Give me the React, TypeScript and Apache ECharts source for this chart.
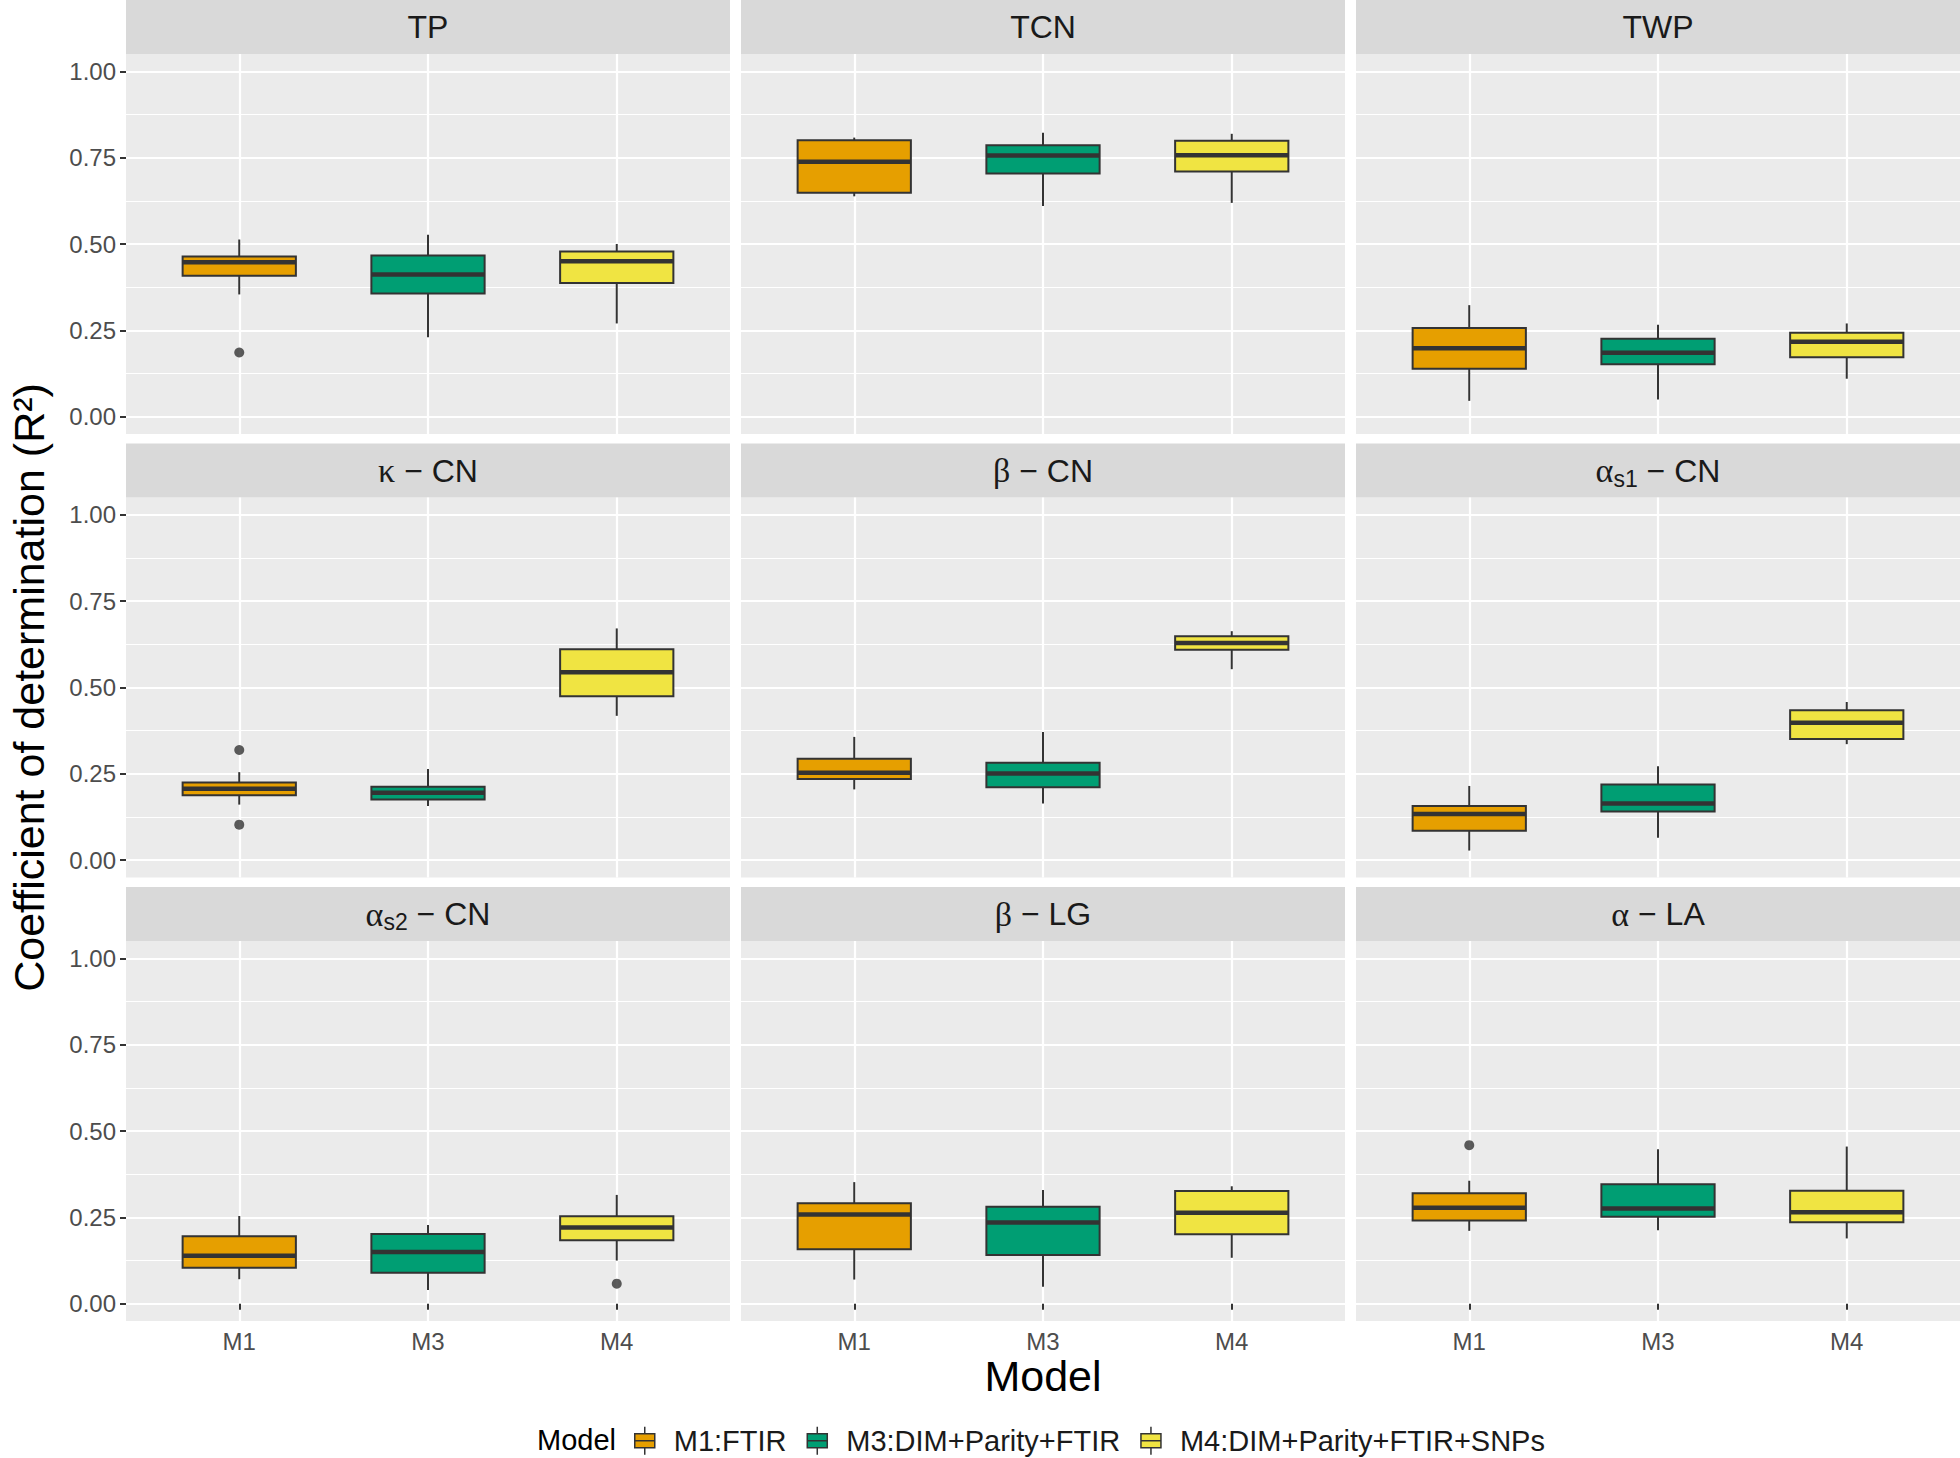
import React, { useEffect, useRef } from 'react';
import * as echarts from 'echarts';

// ---------- data ----------
const MODELS = ['M1', 'M3', 'M4'];
const LEGEND_NAMES = ['M1:FTIR', 'M3:DIM+Parity+FTIR', 'M4:DIM+Parity+FTIR+SNPs'];
const FILLS = ['#E69F00', '#009E73', '#F0E442'];
const Y_TICKS = [0, 0.25, 0.5, 0.75, 1];

// each row: [min whisker, Q1, median, Q3, max whisker] for M1, M3, M4
const TP = [[0.354, 0.408, 0.447, 0.464, 0.513], [0.230, 0.357, 0.412, 0.467, 0.527], [0.270, 0.387, 0.450, 0.478, 0.500]];
const TP_OUT = [[0.186], [], []];
const TCN = [[0.638, 0.648, 0.738, 0.800, 0.808], [0.610, 0.704, 0.756, 0.786, 0.822], [0.619, 0.710, 0.757, 0.799, 0.819]];
const TCN_OUT = [[], [], []];
const TWP = [[0.046, 0.139, 0.198, 0.257, 0.323], [0.050, 0.152, 0.185, 0.226, 0.266], [0.110, 0.172, 0.217, 0.243, 0.270]];
const TWP_OUT = [[], [], []];
const KAPPA_CN = [[0.161, 0.188, 0.207, 0.225, 0.255], [0.157, 0.176, 0.195, 0.213, 0.264], [0.418, 0.475, 0.544, 0.611, 0.671]];
const KAPPA_CN_OUT = [[0.319, 0.103], [], []];
const BETA_CN = [[0.205, 0.235, 0.253, 0.294, 0.357], [0.164, 0.211, 0.251, 0.282, 0.371], [0.553, 0.609, 0.629, 0.648, 0.663]];
const BETA_CN_OUT = [[], [], []];
const AS1_CN = [[0.028, 0.085, 0.134, 0.157, 0.215], [0.065, 0.141, 0.164, 0.219, 0.272], [0.336, 0.351, 0.398, 0.434, 0.458]];
const AS1_CN_OUT = [[], [], []];
const AS2_CN = [[0.071, 0.104, 0.139, 0.195, 0.254], [0.040, 0.090, 0.150, 0.202, 0.228], [0.125, 0.184, 0.221, 0.253, 0.315]];
const AS2_CN_OUT = [[], [], [0.058]];
const BETA_LG = [[0.070, 0.158, 0.258, 0.291, 0.352], [0.049, 0.141, 0.235, 0.281, 0.329], [0.133, 0.201, 0.263, 0.326, 0.340]];
const BETA_LG_OUT = [[], [], []];
const ALPHA_LA = [[0.211, 0.241, 0.278, 0.320, 0.356], [0.213, 0.252, 0.276, 0.346, 0.447], [0.189, 0.236, 0.265, 0.327, 0.455]];
const ALPHA_LA_OUT = [[0.459], [], []];

// facet strip labels (rich text)
const STRIPS = [
  '{t|TP}',
  '{t|TCN}',
  '{t|TWP}',
  '{g|κ}{t| − CN}',
  '{g|β}{t| − CN}',
  '{g|α}{sub|s1}{t| − CN}',
  '{g|α}{sub|s2}{t| − CN}',
  '{g|β}{t| − LG}',
  '{g|α}{t| − LA}',
];
const PANEL_STATS = [TP, TCN, TWP, KAPPA_CN, BETA_CN, AS1_CN, AS2_CN, BETA_LG, ALPHA_LA];
const PANEL_OUT = [TP_OUT, TCN_OUT, TWP_OUT, KAPPA_CN_OUT, BETA_CN_OUT, AS1_CN_OUT, AS2_CN_OUT, BETA_LG_OUT, ALPHA_LA_OUT];

// ---------- layout ----------
const COL_LEFT = [126, 741, 1356];
const PANEL_W = 604;
const STRIP_TOP = [0, 443.5, 887];
const STRIP_H = 54;
const PANEL_H = 380;
const Y_MIN = -0.05;
const Y_MAX = 1.05;
const FONT = 'Liberation Sans, Arial, Helvetica, sans-serif';
const SERIF = 'Liberation Serif, DejaVu Serif, serif';

const LEGEND_ICON = 'path://M12 0L12 7M2 7L22 7L22 21L2 21ZM2 14L22 14M12 21L12 28';

function buildOption() {
  const grid: any[] = [];
  const xAxis: any[] = [];
  const yAxis: any[] = [];
  const series: any[] = [];
  const graphic: any[] = [];

  const yInterval = Y_TICKS[1] - Y_TICKS[0];
  const pad = (PANEL_H * (Y_TICKS[0] - Y_MIN)) / (Y_MAX - Y_MIN);
  const padTop = (PANEL_H * (Y_MAX - Y_TICKS[Y_TICKS.length - 1])) / (Y_MAX - Y_MIN);
  const nCat = MODELS.length;
  const xRange = nCat - 1 + 1.2; // ggplot discrete expansion 0.6 each side
  const catLeft = (PANEL_W * 0.6) / xRange;
  const catW = (PANEL_W * (nCat - 1)) / xRange;

  for (let i = 0; i < 9; i++) {
    const r = Math.floor(i / 3);
    const c = i % 3;
    const px = COL_LEFT[c];
    const py = STRIP_TOP[r] + STRIP_H;
    const gBG = 3 * i;
    const gH = 3 * i + 1;
    const gV = 3 * i + 2;

    grid.push({ left: px, top: py, width: PANEL_W, height: PANEL_H, show: true, backgroundColor: '#EBEBEB', borderWidth: 0, z: 0 });
    grid.push({ left: px, top: py + padTop, width: PANEL_W, height: PANEL_H - pad - padTop });
    grid.push({ left: px + catLeft, top: py, width: catW, height: PANEL_H });

    xAxis.push({ gridIndex: gBG, type: 'value', show: false });
    yAxis.push({ gridIndex: gBG, type: 'value', show: false });

    xAxis.push({ gridIndex: gH, type: 'value', show: false, min: 0, max: 1 });
    yAxis.push({
      gridIndex: gH,
      type: 'value',
      min: Y_TICKS[0],
      max: Y_TICKS[Y_TICKS.length - 1],
      interval: yInterval,
      z: 1,
      axisLine: { show: false },
      axisTick: { show: c === 0, length: 6, lineStyle: { color: '#333333', width: 2 } },
      axisLabel: {
        show: c === 0,
        fontSize: 24,
        color: '#4D4D4D',
        margin: 10,
        fontFamily: FONT,
        formatter: (v: number) => v.toFixed(2),
      },
      splitLine: { show: true, lineStyle: { color: '#FFFFFF', width: 2.2 } },
      minorTick: { show: false, splitNumber: 2 },
      minorSplitLine: { show: true, lineStyle: { color: '#FFFFFF', width: 1.1 } },
      ...(i === 3
        ? {
            name: 'Coefficient of determination (R²)',
            nameLocation: 'middle',
            nameGap: 76,
            nameTextStyle: { fontSize: 43, color: '#000000', fontFamily: FONT },
          }
        : {}),
    });

    xAxis.push({
      gridIndex: gV,
      type: 'category',
      data: MODELS,
      boundaryGap: false,
      z: 1,
      axisLine: { show: false },
      axisTick: { show: r === 2, length: 6, lineStyle: { color: '#333333', width: 2 } },
      axisLabel: { show: r === 2, fontSize: 24, color: '#4D4D4D', margin: 8, interval: 0, fontFamily: FONT },
      splitLine: { show: true, interval: 0, lineStyle: { color: '#FFFFFF', width: 2.2 } },
      ...(i === 7
        ? {
            name: 'Model',
            nameLocation: 'middle',
            nameGap: 33,
            nameTextStyle: { fontSize: 43, color: '#000000', fontFamily: FONT },
          }
        : {}),
    });
    yAxis.push({ gridIndex: gV, type: 'value', min: Y_MIN, max: Y_MAX, show: false });

    const stats = PANEL_STATS[i];
    series.push({
      type: 'custom',
      xAxisIndex: gV,
      yAxisIndex: gV,
      z: 3,
      silent: true,
      encode: { x: 0, y: [1, 2, 3, 4, 5] },
      data: stats.map((s, k) => [k, ...s]),
      renderItem: (params: any, api: any) => {
        const k = api.value(0);
        const pMin = api.coord([k, api.value(1)]);
        const pQ1 = api.coord([k, api.value(2)]);
        const pMed = api.coord([k, api.value(3)]);
        const pQ3 = api.coord([k, api.value(4)]);
        const pMax = api.coord([k, api.value(5)]);
        const bw = api.size([1, 0])[0] * 0.6;
        const cx = pMed[0];
        const stroke = '#333333';
        return {
          type: 'group',
          children: [
            { type: 'line', shape: { x1: cx, y1: pMax[1], x2: cx, y2: pQ3[1] }, style: { stroke, lineWidth: 2 } },
            { type: 'line', shape: { x1: cx, y1: pQ1[1], x2: cx, y2: pMin[1] }, style: { stroke, lineWidth: 2 } },
            {
              type: 'rect',
              shape: { x: cx - bw / 2, y: pQ3[1], width: bw, height: pQ1[1] - pQ3[1] },
              style: { fill: FILLS[k], stroke, lineWidth: 2 },
            },
            { type: 'line', shape: { x1: cx - bw / 2, y1: pMed[1], x2: cx + bw / 2, y2: pMed[1] }, style: { stroke, lineWidth: 4.5 } },
          ],
        };
      },
    });

    const outPts: number[][] = [];
    PANEL_OUT[i].forEach((vals, k) => vals.forEach((v) => outPts.push([k, v])));
    if (outPts.length) {
      series.push({
        type: 'scatter',
        xAxisIndex: gV,
        yAxisIndex: gV,
        z: 4,
        silent: true,
        symbol: 'circle',
        symbolSize: 10,
        itemStyle: { color: '#333333' },
        data: outPts,
      });
    }

    graphic.push({
      type: 'rect',
      shape: { x: px, y: STRIP_TOP[r], width: PANEL_W, height: STRIP_H },
      style: { fill: '#D9D9D9' },
      silent: true,
    });
    graphic.push({
      type: 'text',
      x: px + PANEL_W / 2,
      y: STRIP_TOP[r] + STRIP_H / 2,
      silent: true,
      style: {
        text: STRIPS[i],
        align: 'center',
        verticalAlign: 'middle',
        fontSize: 32,
        fill: '#1A1A1A',
        fontFamily: FONT,
        rich: {
          t: { fontSize: 32, fontFamily: FONT, fill: '#1A1A1A' },
          g: { fontSize: 34, fontFamily: SERIF, fill: '#1A1A1A' },
          sub: { fontSize: 23, fontFamily: FONT, fill: '#1A1A1A', padding: [16, 0, 0, 0] },
        },
      },
    });
  }

  // legend carrier series (no marks)
  LEGEND_NAMES.forEach((name, k) => {
    series.push({
      type: 'custom',
      name,
      xAxisIndex: 2,
      yAxisIndex: 2,
      itemStyle: { color: FILLS[k], borderColor: '#333333', borderWidth: 1.5 },
      data: [],
      renderItem: () => null,
    });
  });

  graphic.push({
    type: 'text',
    x: 537,
    y: 1440,
    silent: true,
    style: { text: 'Model', fontSize: 29, lineHeight: 26, fill: '#000000', fontFamily: FONT, verticalAlign: 'middle', align: 'left' },
  });

  return {
    animation: false,
    backgroundColor: '#FFFFFF',
    textStyle: { fontFamily: FONT },
    grid,
    xAxis,
    yAxis,
    series,
    graphic,
    legend: {
      left: 634,
      top: 1426,
      padding: 0,
      orient: 'horizontal',
      itemWidth: 24,
      itemHeight: 28,
      itemGap: 20,
      selectedMode: false,
      icon: LEGEND_ICON,
      itemStyle: { borderColor: '#333333', borderWidth: 1.5 },
      formatter: (name: string) => '{gap|}' + name,
      textStyle: {
        fontSize: 29,
        lineHeight: 26,
        color: '#1A1A1A',
        fontFamily: FONT,
        rich: { gap: { width: 12, lineHeight: 26 } },
      },
      data: LEGEND_NAMES,
    },
  };
}

export default function App() {
  const ref = useRef<HTMLDivElement>(null);
  useEffect(() => {
    if (!ref.current) return;
    const chart = echarts.init(ref.current, undefined, { renderer: 'svg' });
    chart.setOption(buildOption() as any);
    return () => chart.dispose();
  }, []);
  return (
    <div
      ref={ref}
      style={{ position: 'fixed', left: 0, top: 0, width: 1960, height: 1458, background: '#FFFFFF' }}
    />
  );
}
